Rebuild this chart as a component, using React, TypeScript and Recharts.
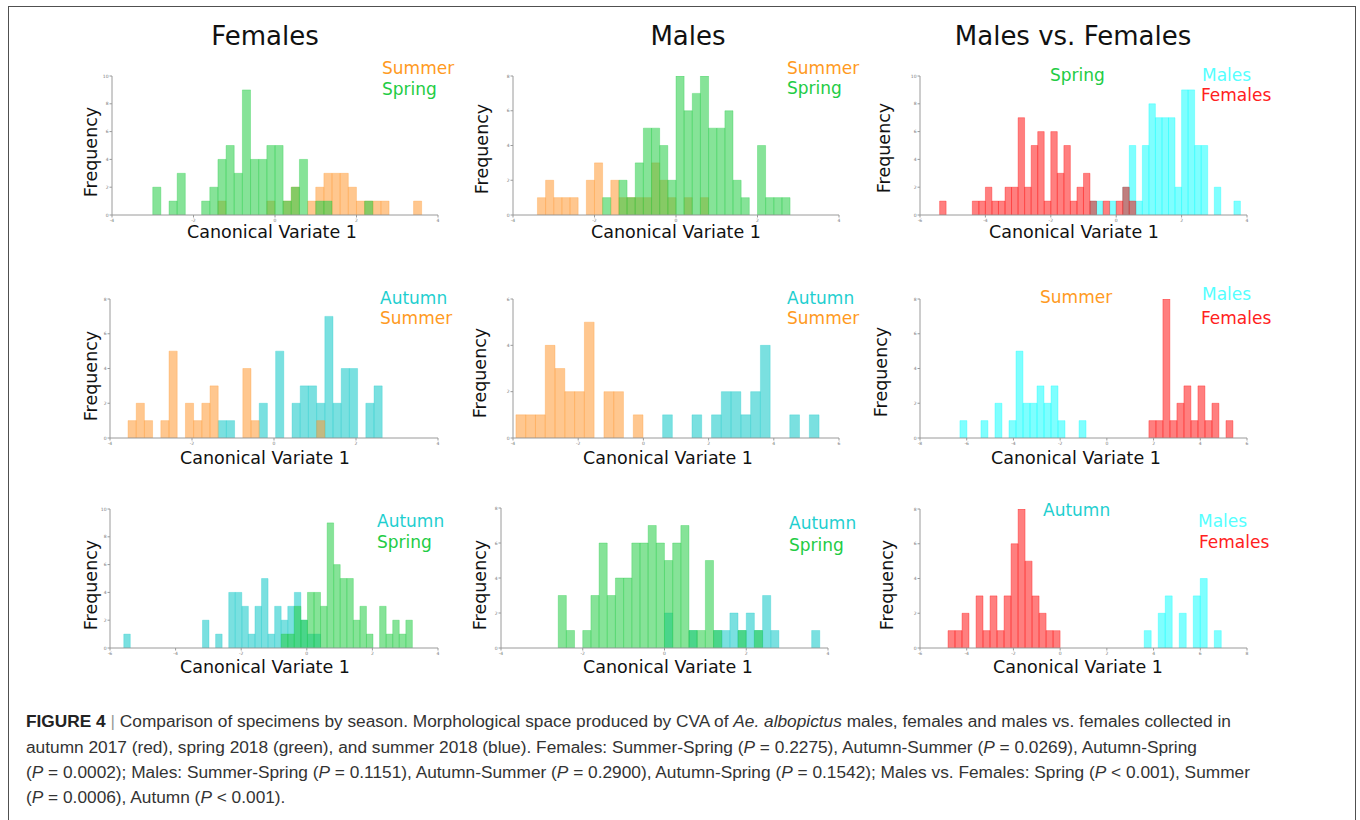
import React from 'react';
import { ComposedChart, Bar, XAxis, YAxis } from 'recharts';

const SPRING = '#22cc44';
const SUMMER = '#ff9933';
const AUTUMN = '#22cccc';
const MALES = '#00ffff';
const FEMALES = '#ff0000';

// histogram counts, one entry per bin
// Females
const fSsSummer = [1, 0, 0, 0, 0, 0, 1, 0, 1, 2, 0, 1, 2, 3, 3, 3, 2, 1, 1, 1, 1, 0, 0, 0, 1];
const fSsSpring = [2, 0, 1, 3, 0, 0, 1, 2, 4, 5, 3, 9, 4, 4, 5, 5, 1, 2, 4, 0, 1, 1, 0, 0, 0, 0, 1];
const fAsSummer = [1, 2, 1, 0, 1, 5, 0, 2, 1, 2, 3, 0, 0, 0, 4, 1, 0, 0, 0, 0, 0, 0, 0, 1];
const fAsAutumn = [1, 1, 0, 0, 0, 2, 0, 5, 0, 2, 3, 3, 2, 7, 2, 4, 4, 0, 2, 3];
const fApAutumn = [1, 0, 0, 0, 0, 0, 0, 0, 0, 0, 0, 0, 2, 0, 1, 0, 4, 4, 3, 1, 3, 5, 1, 3, 2, 3, 4, 2, 1, 1];
const fApSpring = [1, 1, 3, 2, 4, 4, 3, 9, 6, 5, 5, 2, 3, 1, 0, 3, 1, 2, 1, 2];
// Males
const mSsSummer = [1, 2, 1, 1, 1, 0, 2, 3, 0, 2, 1, 1, 1, 1, 3, 2, 1, 0, 1, 0, 1];
const mSsSpring = [1, 0, 2, 1, 3, 5, 5, 4, 2, 8, 6, 7, 8, 5, 5, 6, 2, 1, 0, 4, 1, 1, 1];
const mAsSummer = [1, 1, 1, 4, 3, 2, 2, 5, 0, 2, 2, 0, 1];
const mAsAutumn = [1, 0, 0, 1, 0, 1, 2, 2, 1, 2, 4, 0, 0, 1, 0, 1];
const mApAutumn = [2, 0, 0, 1, 0, 0, 1, 1, 2, 1, 2, 1, 3, 1, 0, 0, 0, 0, 1];
const mApSpring = [3, 1, 0, 1, 3, 6, 3, 4, 4, 6, 6, 7, 6, 5, 6, 7, 1, 1, 5, 1, 0, 0, 1, 0, 1];
// Males vs. Females
const vSpFemales = [1, 0, 0, 0, 0, 1, 1, 2, 1, 1, 2, 2, 7, 2, 5, 6, 1, 6, 3, 5, 1, 2, 3, 1, 0, 1, 0, 1, 2, 1];
const vSpMales = [1, 1, 0, 1, 0, 2, 5, 1, 5, 8, 7, 7, 7, 2, 9, 9, 5, 5, 0, 2, 0, 0, 1];
const vSuMales = [1, 0, 0, 1, 0, 2, 0, 1, 5, 2, 2, 3, 2, 3, 1, 0, 0, 1];
const vSuFemales = [1, 1, 8, 1, 2, 3, 1, 3, 1, 2, 0, 1];
const vAuFemales = [1, 1, 2, 0, 3, 1, 3, 1, 3, 6, 8, 5, 3, 2, 1, 1];
const vAuMales = [1, 0, 2, 3, 0, 2, 0, 3, 4, 0, 1];

// first bin edge and bin width of each histogram
const fSsBins = { summer: [-1.4, 0.2], spring: [-3.0, 0.2] };
const fAsBins = { summer: [-3.56, 0.2], autumn: [-1.36, 0.2] };
const fApBins = { autumn: [-5.58, 0.2], spring: [-0.78, 0.2] };
const mSsBins = { summer: [-3.4, 0.2], spring: [-1.8, 0.2] };
const mAsBins = { summer: [-3.91, 0.3], autumn: [0.59, 0.3] };
const mApBins = { autumn: [0.0, 0.2], spring: [-2.6, 0.2] };
const vSpBins = { males: [-0.8, 0.2], females: [-5.4, 0.2] };
const vSuBins = { males: [-6.29, 0.3], females: [1.8, 0.3] };
const vAuBins = { males: [3.6, 0.3], females: [-4.8, 0.3] };

const ticks = (a: number, b: number, s: number) => {
  const out: number[] = [];
  for (let v = a; v <= b + 1e-9; v += s) out.push(v);
  return out;
};

type Series = { bins: number[]; counts: number[]; color: string; opacity: number };

const FONT = "'DejaVu Sans', Verdana, sans-serif";
const axisColor = '#9a9a9a';

function Panel({ l, t, w, h, xDomain, yMax, back, front }: any) {
  // plot area starts ML px from the chart's left edge and MT px from its top
  const ML = 24, MR = 12, MT = 8, MB = 16;
  const YW = 14, XH = 12;
  const n = Math.max(back.counts.length, front.counts.length);
  const rows: any[] = [];
  for (let i = 0; i < n; i++) {
    rows.push({
      xa: back.bins[0] + (i + 0.5) * back.bins[1],
      ya: back.counts[i] ?? 0,
      xb: front.bins[0] + (i + 0.5) * front.bins[1],
      yb: front.counts[i] ?? 0,
    });
  }
  const span = xDomain[1] - xDomain[0];
  const tickStyle = { fontSize: 4.5, fill: '#777', fontFamily: FONT };
  return (
    <div style={{ position: 'absolute', left: l - ML, top: t - MT }}>
      <ComposedChart
        width={w + ML + MR}
        height={h + MT + MB}
        data={rows}
        margin={{ top: MT, right: MR, bottom: MB - XH, left: ML - YW }}
      >
        <XAxis
          xAxisId="a"
          type="number"
          dataKey="xa"
          domain={xDomain}
          ticks={ticks(xDomain[0], xDomain[1], 2)}
          allowDataOverflow
          height={XH}
          tick={tickStyle}
          tickSize={2.5}
          tickMargin={1}
          stroke={axisColor}
        />
        <XAxis xAxisId="b" type="number" dataKey="xb" domain={xDomain} allowDataOverflow hide />
        <YAxis
          type="number"
          domain={[0, yMax]}
          ticks={ticks(0, yMax, 2)}
          allowDataOverflow
          width={YW}
          tick={tickStyle}
          tickSize={2.5}
          tickMargin={1}
          stroke={axisColor}
        />
        <Bar
          xAxisId="a"
          dataKey="ya"
          barSize={(back.bins[1] / span) * w - 0.05}
          fill={back.color}
          fillOpacity={back.opacity}
          stroke={back.color}
          strokeOpacity={0.4}
          strokeWidth={0.8}
          isAnimationActive={false}
        />
        <Bar
          xAxisId="b"
          dataKey="yb"
          barSize={(front.bins[1] / span) * w - 0.05}
          fill={front.color}
          fillOpacity={front.opacity}
          stroke={front.color}
          strokeOpacity={0.4}
          strokeWidth={0.8}
          isAnimationActive={false}
        />
      </ComposedChart>
    </div>
  );
}

const s = (bins: number[], counts: number[], color: string, opacity: number): Series => ({ bins, counts, color, opacity });

const TXT = { summer: '#ff9a22', spring: '#22cc44', autumn: '#1fcfd0', males: '#55ffff', females: '#ff2020' };

const panels = [
  { l: 112, t: 76, w: 326, h: 139, xDomain: [-4, 4], yMax: 10,
    back: s(fSsBins.summer, fSsSummer, SUMMER, 0.55), front: s(fSsBins.spring, fSsSpring, SPRING, 0.55),
    freq: [92, 152], cv: [272, 233],
    legend: [['Summer', TXT.summer, 382, 68], ['Spring', TXT.spring, 382, 89]] },
  { l: 513, t: 76, w: 326, h: 139, xDomain: [-4, 4], yMax: 8,
    back: s(mSsBins.summer, mSsSummer, SUMMER, 0.55), front: s(mSsBins.spring, mSsSpring, SPRING, 0.55),
    freq: [483, 149], cv: [676, 233],
    legend: [['Summer', TXT.summer, 787, 68], ['Spring', TXT.spring, 787, 88]] },
  { l: 920, t: 76, w: 327, h: 139, xDomain: [-6, 4], yMax: 10,
    back: s(vSpBins.males, vSpMales, MALES, 0.5), front: s(vSpBins.females, vSpFemales, FEMALES, 0.5),
    freq: [885, 148], cv: [1074, 233],
    legend: [['Spring', TXT.spring, 1050, 75], ['Males', TXT.males, 1202, 75], ['Females', TXT.females, 1201, 95]] },
  { l: 110, t: 299, w: 328, h: 139, xDomain: [-4, 4], yMax: 8,
    back: s(fAsBins.autumn, fAsAutumn, AUTUMN, 0.6), front: s(fAsBins.summer, fAsSummer, SUMMER, 0.55),
    freq: [92, 376], cv: [265, 459],
    legend: [['Autumn', TXT.autumn, 380, 298], ['Summer', TXT.summer, 380, 318]] },
  { l: 513, t: 299, w: 326, h: 139, xDomain: [-4, 6], yMax: 6,
    back: s(mAsBins.summer, mAsSummer, SUMMER, 0.55), front: s(mAsBins.autumn, mAsAutumn, AUTUMN, 0.6),
    freq: [481, 373], cv: [668, 459],
    legend: [['Autumn', TXT.autumn, 787, 298], ['Summer', TXT.summer, 787, 318]] },
  { l: 920, t: 299, w: 327, h: 139, xDomain: [-8, 6], yMax: 8,
    back: s(vSuBins.males, vSuMales, MALES, 0.5), front: s(vSuBins.females, vSuFemales, FEMALES, 0.5),
    freq: [882, 372], cv: [1076, 459],
    legend: [['Summer', TXT.summer, 1040, 297], ['Males', TXT.males, 1202, 294], ['Females', TXT.females, 1201, 318]] },
  { l: 110, t: 509, w: 328, h: 139, xDomain: [-6, 4], yMax: 10,
    back: s(fApBins.autumn, fApAutumn, AUTUMN, 0.6), front: s(fApBins.spring, fApSpring, SPRING, 0.55),
    freq: [92, 585], cv: [265, 668],
    legend: [['Autumn', TXT.autumn, 377, 521], ['Spring', TXT.spring, 377, 542]] },
  { l: 501, t: 508, w: 327, h: 140, xDomain: [-4, 4], yMax: 8,
    back: s(mApBins.autumn, mApAutumn, AUTUMN, 0.6), front: s(mApBins.spring, mApSpring, SPRING, 0.55),
    freq: [481, 585], cv: [668, 668],
    legend: [['Autumn', TXT.autumn, 789, 523], ['Spring', TXT.spring, 789, 545]] },
  { l: 920, t: 509, w: 327, h: 139, xDomain: [-6, 8], yMax: 8,
    back: s(vAuBins.males, vAuMales, MALES, 0.5), front: s(vAuBins.females, vAuFemales, FEMALES, 0.5),
    freq: [888, 585], cv: [1078, 668],
    legend: [['Autumn', TXT.autumn, 1043, 510], ['Males', TXT.males, 1198, 521], ['Females', TXT.females, 1199, 542]] },
];

const titles: [string, number][] = [['Females', 265], ['Males', 688], ['Males vs. Females', 1073]];

const P = () => <i>P</i>;

const captionLines = [
  <>
    <b style={{ color: '#222' }}>FIGURE 4</b> <span style={{ color: '#999' }}>|</span> Comparison of specimens by season. Morphological space produced by CVA of <i>Ae. albopictus</i> males, females and males vs. females collected in
  </>,
  <>
    autumn 2017 (red), spring 2018 (green), and summer 2018 (blue). Females: Summer-Spring (<P /> = 0.2275), Autumn-Summer (<P /> = 0.0269), Autumn-Spring
  </>,
  <>
    (<P /> = 0.0002); Males: Summer-Spring (<P /> = 0.1151), Autumn-Summer (<P /> = 0.2900), Autumn-Spring (<P /> = 0.1542); Males vs. Females: Spring (<P /> {'<'} 0.001), Summer
  </>,
  <>
    (<P /> = 0.0006), Autumn (<P /> {'<'} 0.001).
  </>,
];
const captionY = [722, 748, 773, 798];

const abs = (x: number, y: number, extra: React.CSSProperties = {}): React.CSSProperties => ({
  position: 'absolute',
  left: x,
  top: y,
  whiteSpace: 'nowrap',
  lineHeight: 1,
  ...extra,
});

export default function App() {
  return (
    <div style={{ position: 'absolute', left: 0, top: 0, width: 1360, height: 820, background: '#fff', overflow: 'hidden', fontFamily: FONT }}>
      <div style={{ position: 'absolute', left: 8, top: 6, width: 1346, height: 840, border: '1.5px solid #505050' }} />
      {titles.map(([t, x]) => (
        <div key={t} style={abs(x, 36, { fontSize: 26, color: '#111', transform: 'translate(-50%, -50%)' })}>{t}</div>
      ))}
      {panels.map((p, i) => (
        <React.Fragment key={i}>
          <Panel {...p} />
          <div style={abs(p.freq[0], p.freq[1], { fontSize: 17.5, color: '#111', transform: 'translate(-50%, -50%) rotate(-90deg)' })}>Frequency</div>
          <div style={abs(p.cv[0], p.cv[1], { fontSize: 17.5, color: '#111', transform: 'translate(-50%, -50%)' })}>Canonical Variate 1</div>
          {p.legend.map(([label, color, x, y]: any) => (
            <div key={label} style={abs(x, y, { fontSize: 17, color, transform: 'translateY(-50%)' })}>{label}</div>
          ))}
        </React.Fragment>
      ))}
      {captionLines.map((line, i) => (
        <div key={i} style={abs(26, captionY[i], { fontSize: 17.3, color: '#333', fontFamily: "'Liberation Sans', Arial, sans-serif", transform: 'translateY(-50%)' })}>
          {line}
        </div>
      ))}
    </div>
  );
}
